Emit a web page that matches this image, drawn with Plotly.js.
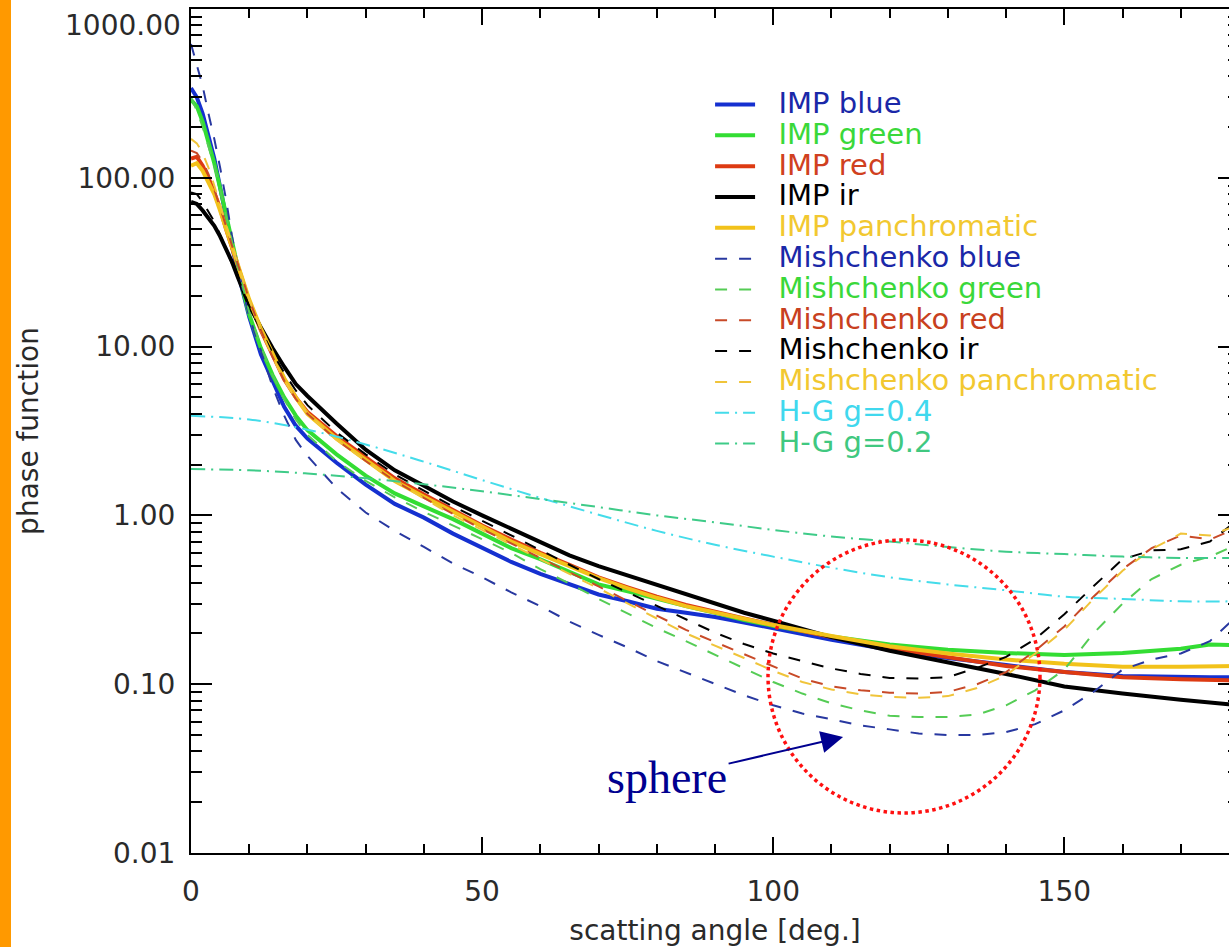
<!DOCTYPE html>
<html>
<head>
<meta charset="utf-8">
<script src="https://cdn.plot.ly/plotly-3.0.1.min.js"></script>
<style>
html,body{margin:0;padding:0;overflow:hidden;background:#fff;}
#bar{position:absolute;left:0;top:0;width:11px;height:947px;background:#ff9900;z-index:5;}
#chart{position:absolute;left:0;top:0;width:1240px;height:947px;}
</style>
</head>
<body>
<div id="bar"></div>
<div id="chart"></div>
<script>
// ---- data ----
const impAngle = [0,1,2,3,4,5,6,7,8,9,10,12,14,16,18,20,25,30,35,40,45,50,55,60,65,70,75,80,85,90,95,100,110,120,130,140,150,160,170,175,180];
const impBlue  = [340,300,240,180,130,88,58,40,28,20,15,9.0,6.2,4.4,3.4,2.85,2.05,1.52,1.17,0.97,0.78,0.64,0.53,0.45,0.39,0.34,0.31,0.28,0.265,0.25,0.232,0.215,0.183,0.16,0.143,0.13,0.118,0.112,0.11,0.11,0.11];
const impGreen = [290,265,215,165,122,87,60,42,30,21,15.5,9.8,6.8,5.0,3.9,3.2,2.3,1.72,1.35,1.13,0.95,0.78,0.64,0.55,0.46,0.39,0.355,0.32,0.29,0.265,0.24,0.222,0.192,0.172,0.16,0.153,0.149,0.153,0.162,0.172,0.17];
const impRed   = [130,133,118,100,82,66,50,39,30,23,18.5,12.5,8.8,6.4,5.0,4.1,2.95,2.2,1.66,1.33,1.08,0.87,0.72,0.60,0.51,0.43,0.375,0.33,0.295,0.268,0.245,0.225,0.19,0.163,0.145,0.128,0.118,0.11,0.107,0.106,0.105];
const impIr    = [72,70,64,58,52,45,38,32,26,21,17.5,13,9.8,7.6,6.0,5.1,3.5,2.45,1.85,1.5,1.21,1.0,0.83,0.69,0.58,0.50,0.44,0.39,0.34,0.30,0.265,0.238,0.19,0.158,0.135,0.115,0.097,0.088,0.081,0.078,0.075];
const impPan   = [118,122,110,95,80,64,50,39,30,23.5,19,12.8,9.0,6.5,5.0,4.0,2.85,2.12,1.6,1.29,1.05,0.85,0.70,0.59,0.50,0.425,0.37,0.325,0.29,0.265,0.243,0.224,0.193,0.168,0.152,0.14,0.132,0.127,0.127,0.128,0.128];

const mishAngle = [0,1,2,3,4,5,6,7,8,9,10,12,14,16,18,20,25,30,35,40,45,50,55,60,65,70,75,80,85,90,95,100,105,110,115,120,125,130,135,140,145,150,155,160,165,170,175,180];
const mishBlue  = [620,470,350,240,170,115,75,46,30,21,15,9.5,5.8,3.9,2.8,2.25,1.45,1.04,0.81,0.65,0.52,0.43,0.35,0.29,0.235,0.196,0.165,0.137,0.117,0.1,0.086,0.075,0.067,0.062,0.057,0.054,0.051,0.05,0.05,0.052,0.058,0.07,0.09,0.122,0.14,0.152,0.18,0.26];
const mishGreen = [300,250,200,155,118,85,60,42,30,22,16,10,6.8,4.9,3.7,3.0,2.1,1.6,1.28,1.05,0.87,0.72,0.6,0.48,0.395,0.32,0.262,0.215,0.18,0.15,0.125,0.103,0.088,0.077,0.07,0.065,0.064,0.064,0.066,0.075,0.092,0.122,0.2,0.3,0.42,0.51,0.57,0.68];
const mishRed   = [145,140,125,105,85,67,52,40,31,24,19,12.5,8.7,6.3,4.9,4.0,2.8,2.1,1.6,1.27,1.02,0.83,0.68,0.56,0.46,0.38,0.31,0.255,0.21,0.178,0.15,0.127,0.108,0.097,0.092,0.089,0.088,0.09,0.1,0.118,0.158,0.22,0.33,0.48,0.64,0.76,0.72,0.85];
const mishIr    = [82,80,72,63,55,46,38,31,26,21,17.5,12.5,9.2,7.0,5.5,4.5,3.1,2.3,1.75,1.4,1.13,0.93,0.76,0.62,0.51,0.42,0.35,0.29,0.243,0.202,0.173,0.152,0.137,0.124,0.115,0.109,0.108,0.11,0.125,0.145,0.185,0.26,0.38,0.55,0.62,0.63,0.70,0.95];
const mishPan   = [170,160,140,115,90,70,53,41,31,24,19,12.5,8.7,6.3,4.9,4.0,2.8,2.1,1.6,1.26,1.0,0.82,0.67,0.55,0.45,0.37,0.30,0.245,0.2,0.17,0.143,0.12,0.103,0.093,0.087,0.084,0.083,0.085,0.095,0.113,0.152,0.21,0.32,0.47,0.63,0.78,0.76,0.88];

const hgAngle = [0,10,20,30,40,50,60,70,80,90,100,110,120,130,140,150,160,170,180];
const hg04 = [3.89,3.70,3.22,2.63,2.08,1.62,1.27,1.01,0.81,0.67,0.57,0.49,0.43,0.39,0.36,0.33,0.32,0.31,0.31];
const hg02 = [1.88,1.85,1.77,1.66,1.53,1.39,1.25,1.12,1.00,0.91,0.82,0.75,0.70,0.65,0.61,0.59,0.57,0.56,0.56];

const seriesNames = ['IMP blue','IMP green','IMP red','IMP ir','IMP panchromatic',
  'Mishchenko blue','Mishchenko green','Mishchenko red','Mishchenko ir','Mishchenko panchromatic',
  'H-G g=0.4','H-G g=0.2'];
const yTickVals = [0.01,0.1,1,10,100,1000];
const yTickText = ['0.01','0.10','1.00','10.00','100.00','1000.00'];
const annotationText = 'sphere';

// ---- styling ----
const lineColors = ['#1530d0','#33dd33','#dd3a12','#000000','#f2c21a',
  '#2838a0','#55cc55','#c84a28','#000000','#f0c43a','#44dcea','#3ecb88'];
const textColors = ['#1a28a8','#3ad83a','#d04020','#000000','#f2c830',
  '#1a28a8','#3ad83a','#c84020','#000000','#f2c830','#40d8ee','#40c880'];
const xs = [impAngle,impAngle,impAngle,impAngle,impAngle,mishAngle,mishAngle,mishAngle,mishAngle,mishAngle,hgAngle,hgAngle];
const ys = [impBlue,impGreen,impRed,impIr,impPan,mishBlue,mishGreen,mishRed,mishIr,mishPan,hg04,hg02];
const widths = [4,4,4,4,4,2,2,2,2,2,2,2];
const dashes = ['solid','solid','solid','solid','solid','12px,12px','12px,12px','12px,12px','12px,12px','12px,12px','14px,6px,2px,6px','14px,6px,2px,6px'];

const traces = seriesNames.map((n,i) => ({
  type:'scatter', mode:'lines', x: xs[i], y: ys[i],
  name: '<span style="color:' + textColors[i] + ';font-size:29px">&nbsp;&nbsp;' + n + '</span>',
  line: {color: lineColors[i], width: widths[i], dash: dashes[i], shape: i >= 10 ? 'spline' : 'linear'}
}));

const minorVals = [];
for (let e = -2; e < 3; e++) for (let d = 2; d <= 9; d++) minorVals.push(d * Math.pow(10, e));

const fontFam = 'DejaVu Sans, sans-serif';
const tickFont = {family:fontFam, size:28, color:'#2a2a2a'};
const nTop = yTickVals.length - 1; // top decade label sits just inside the top edge, as in the reference
const layout = {
  width: 1240, height: 947,
  margin: {l:191, r:1, t:9, b:94},
  paper_bgcolor:'#ffffff', plot_bgcolor:'#ffffff',
  showlegend: true,
  hovermode: false,
  xaxis: {
    range:[0,180], showgrid:false, zeroline:false,
    showline:true, linecolor:'#000', linewidth:2, mirror:'ticks',
    ticks:'inside', ticklen:16, tickwidth:2, tickcolor:'#000',
    tick0:0, dtick:50, ticklabelstandoff: 12,
    minor:{dtick:10, ticks:'inside', ticklen:9, tickwidth:2, tickcolor:'#000'},
    tickfont:tickFont,
    title:{text:'scatting angle [deg.]', font:{family:fontFam, size:28, color:'#2a2a2a'}, standoff:14}
  },
  yaxis: {
    type:'log', range:[-2,3], showgrid:false, zeroline:false,
    showline:true, linecolor:'#000', linewidth:2, mirror:'ticks',
    ticks:'inside', ticklen:21, tickwidth:2, tickcolor:'#000',
    tickmode:'array', tickvals:yTickVals.slice(0,nTop), ticktext:yTickText.slice(0,nTop), ticklabelstandoff: 8,
    minor:{tickmode:'array', tickvals:minorVals, ticks:'inside', ticklen:11, tickwidth:2, tickcolor:'#000'},
    tickfont:tickFont,
    title:{text:'phase function', font:{family:fontFam, size:28, color:'#2a2a2a'}, standoff:31}
  },
  legend: {
    x:0.4953, y:0.911, xanchor:'left', yanchor:'top',
    bgcolor:'rgba(0,0,0,0)', borderwidth:0,
    font:{family:fontFam, size:21.4, color:'#000'},
    itemwidth:40, tracegroupgap:0
  },
  annotations: [{
    x:112, y:Math.log10(0.0487), xref:'x', yref:'y',
    text: annotationText, showarrow:true, ax:-176, ay:41,
    arrowhead:2, arrowsize:2.2, arrowwidth:2, arrowcolor:'#000090', standoff:0,
    font:{family:'Liberation Serif, Times New Roman, serif', size:46, color:'#000090'}
  }, {
    x:0, xref:'paper', xanchor:'right', xshift:-8,
    y:Math.log10(yTickVals[nTop]), yref:'y', yanchor:'top', yshift:2,
    text: yTickText[nTop], showarrow:false, font:tickFont
  }],
  shapes: [{
    type:'circle', xref:'paper', yref:'paper',
    x0:0.5506, x1:0.8101, y0:0.0474, y1:0.3709,
    line:{color:'#ff1010', width:3.5, dash:'dot'}
  }]
};

Plotly.newPlot('chart', traces, layout, {displayModeBar:false, staticPlot:true});
</script>
</body>
</html>
